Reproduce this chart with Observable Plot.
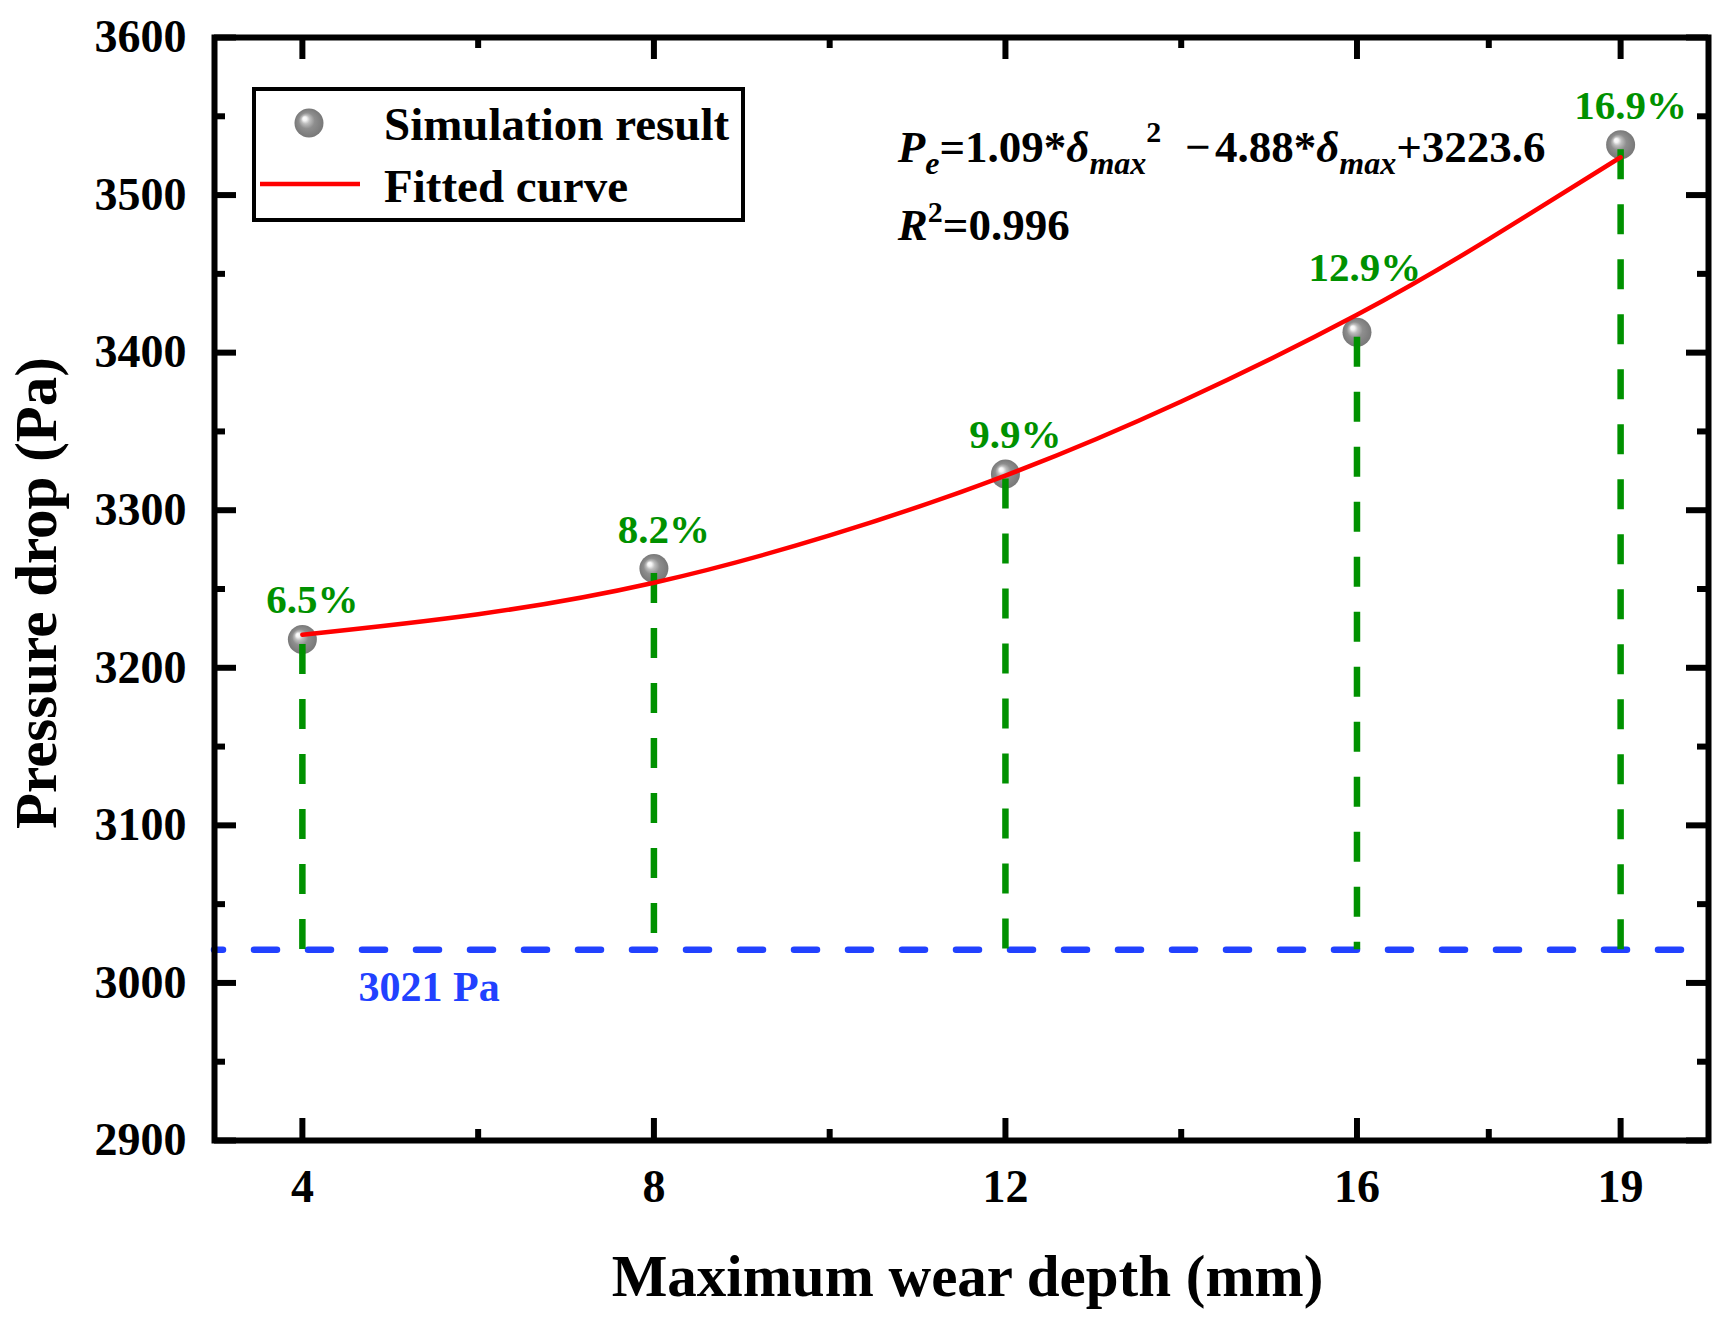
<!DOCTYPE html>
<html>
<head>
<meta charset="utf-8">
<script src="https://cdn.jsdelivr.net/npm/d3@7"></script>
<script src="https://cdn.jsdelivr.net/npm/@observablehq/plot@0.6"></script>
<style>
  html, body { margin: 0; padding: 0; background: #fff; overflow: hidden; }
  #chart svg { display: block; }
</style>
</head>
<body>
<div id="chart"></div>
<script>
// ---- data ----
const depth = [4, 8, 12, 16, 19];                 // maximum wear depth (mm)
const pressure = [3218, 3263, 3323, 3413, 3532];  // simulated pressure drop (Pa)
const increase = ["6.5%", "8.2%", "9.9%", "12.9%", "16.9%"];
const basePressure = 3021;                        // reference pressure drop (Pa)
const fitDepth = [4, 6, 8, 10, 12, 14, 16, 17.5, 19];
const fitPressure = [3221, 3234, 3254, 3284, 3322, 3369, 3424, 3472, 3524];
const xMajor = [4, 8, 12, 16, 19];
const xMinor = [6, 10, 14, 17.5];
const yMajor = [2900, 3000, 3100, 3200, 3300, 3400, 3500, 3600];
const yMinor = [2950, 3050, 3150, 3250, 3350, 3450, 3550];

const points = depth.map((d, i) => ({depth: d, pressure: pressure[i], label: increase[i], i}));
const fit = fitDepth.map((d, i) => ({depth: d, pressure: fitPressure[i]}));

const SERIF = "'Liberation Serif', 'Times New Roman', serif";
const GREEN = "#009100";
const BLUE = "#2141ff";
const W = 1729, H = 1325, ML = 214, MR = 21, MT = 37, MB = 185;
const innerW = W - ML - MR, innerH = H - MT - MB;

const plot = Plot.plot({
  width: W, height: H,
  marginLeft: ML, marginRight: MR, marginTop: MT, marginBottom: MB,
  x: {domain: [3, 20], label: null},
  y: {domain: [2900, 3600], label: null},
  style: {fontFamily: SERIF, fontWeight: "bold", background: "white", color: "black", overflow: "visible"},
  marks: [
    Plot.axisX({ticks: xMajor, anchor: "bottom", tickSize: 0, tickPadding: 29, fontSize: 46, fontWeight: "bold", tickFormat: d => String(d), label: null}),
    Plot.axisY({ticks: yMajor, anchor: "left", tickSize: 0, tickPadding: 28, fontSize: 46, fontWeight: "bold", tickFormat: d => String(d), label: null}),
    Plot.ruleY([basePressure], {stroke: BLUE, strokeWidth: 6.5, strokeDasharray: "23,31", strokeDashoffset: 14, strokeLinecap: "round"}),
    Plot.dot(points, {x: "depth", y: "pressure", r: 14.5, fill: "url(#sphere)", stroke: "none"}),
    Plot.ruleX(points, {x: "depth", y1: "pressure", y2: () => basePressure, stroke: GREEN, strokeWidth: 6.5, strokeDasharray: "30,25", strokeDashoffset: -5}),
    Plot.line(fit, {x: "depth", y: "pressure", curve: "natural", stroke: "#ff0000", strokeWidth: 4.5}),
    Plot.text(points.filter(d => d.i !== 3), {x: "depth", y: "pressure", text: "label", dx: 10, dy: -26, lineAnchor: "bottom", fill: GREEN, fontSize: 41, fontWeight: "bold"}),
    Plot.text(points.filter(d => d.i === 3), {x: "depth", y: "pressure", text: "label", dx: 8, dy: -51, lineAnchor: "bottom", fill: GREEN, fontSize: 41, fontWeight: "bold"}),
    Plot.text([basePressure], {y: d => d, frameAnchor: "left", dx: 144, dy: 51, text: d => `${d} Pa`, textAnchor: "start", lineAnchor: "bottom", fill: BLUE, fontSize: 42, fontWeight: "bold"}),
    Plot.text(["Maximum wear depth (mm)"], {text: d => d, frameAnchor: "bottom", textAnchor: "middle", lineAnchor: "bottom", dx: 6, dy: 155, fontSize: 59, fontWeight: "bold"}),
    Plot.text(["Pressure drop (Pa)"], {text: d => d, frameAnchor: "left", textAnchor: "middle", rotate: -90, lineAnchor: "bottom", dx: -159, dy: 4, fontSize: 59, fontWeight: "bold"}),
    // inward ticks on all four sides
    Plot.tickX(xMajor, {x: d => d, insetTop: innerH - 22, strokeWidth: 6}),
    Plot.tickX(xMajor, {x: d => d, insetBottom: innerH - 22, strokeWidth: 6}),
    Plot.tickX(xMinor, {x: d => d, insetTop: innerH - 11, strokeWidth: 6}),
    Plot.tickX(xMinor, {x: d => d, insetBottom: innerH - 11, strokeWidth: 6}),
    Plot.tickY(yMajor, {y: d => d, insetRight: innerW - 22, strokeWidth: 6}),
    Plot.tickY(yMajor, {y: d => d, insetLeft: innerW - 22, strokeWidth: 6}),
    Plot.tickY(yMinor, {y: d => d, insetRight: innerW - 11, strokeWidth: 6}),
    Plot.tickY(yMinor, {y: d => d, insetLeft: innerW - 11, strokeWidth: 6}),
    Plot.frame({stroke: "black", strokeWidth: 6})
  ]
});

document.getElementById("chart").appendChild(plot);

const svg = d3.select(plot);
// sphere gradient for the simulation markers
const defs = svg.insert("defs", ":first-child");
const grad = defs.append("radialGradient").attr("id", "sphere")
  .attr("cx", "0.5").attr("cy", "0.5").attr("r", "0.5").attr("fx", "0.33").attr("fy", "0.33");
[[0, "#ffffff"], [0.14, "#f4f4f4"], [0.3, "#bdbdbd"], [0.55, "#8e8e8e"], [1, "#787878"]]
  .forEach(([o, c]) => grad.append("stop").attr("offset", o).attr("stop-color", c));

// legend
const lg = svg.append("g").attr("font-family", SERIF).attr("font-weight", "bold").attr("text-anchor", "start");
lg.append("rect").attr("x", 254).attr("y", 89).attr("width", 489).attr("height", 131)
  .attr("fill", "white").attr("stroke", "black").attr("stroke-width", 4);
lg.append("circle").attr("cx", 309).attr("cy", 123).attr("r", 14.5).attr("fill", "url(#sphere)");
lg.append("line").attr("x1", 260).attr("x2", 360).attr("y1", 184).attr("y2", 184)
  .attr("stroke", "#ff0000").attr("stroke-width", 4.5);
lg.append("text").attr("x", 384).attr("y", 140).attr("font-size", 47).text("Simulation result");
lg.append("text").attr("x", 384).attr("y", 202).attr("font-size", 47).text("Fitted curve");

// fitted equation annotation, anchored in data coordinates
const sx = plot.scale("x"), sy = plot.scale("y");
const ex = sx.apply(10.78), ey = sy.apply(3520.7), ry = sy.apply(3471);
const eq = svg.append("text").attr("x", ex).attr("y", ey).attr("text-anchor", "start")
  .attr("font-family", SERIF).attr("font-weight", "bold").attr("font-size", 45).attr("fill", "black");
const parts = [
  ["P", true, null, 0, 0], ["e", true, 32, 12, 0], ["=1.09*", false, null, -12, 0],
  ["δ", true, null, 0, 0], ["max", true, 32, 12, 0], ["2", false, 30, -32, 0],
  ["\u2212", false, null, 20, 24], ["4.88*", false, null, 0, 4],
  ["δ", true, null, 0, 0], ["max", true, 32, 12, 0], ["+3223.6", false, null, -12, 0]
];
parts.forEach(([t, it, fs, dy, dx]) => {
  const ts = eq.append("tspan").text(t).attr("dy", dy);
  if (dx) ts.attr("dx", dx);
  if (it) ts.attr("font-style", "italic");
  if (fs) ts.attr("font-size", fs);
});
const r2 = svg.append("text").attr("x", ex).attr("y", ry).attr("text-anchor", "start")
  .attr("font-family", SERIF).attr("font-weight", "bold").attr("font-size", 45).attr("fill", "black");
r2.append("tspan").attr("font-style", "italic").text("R");
r2.append("tspan").attr("font-size", 30).attr("dy", -18).text("2");
r2.append("tspan").attr("dy", 18).text("=0.996");
</script>
</body>
</html>
